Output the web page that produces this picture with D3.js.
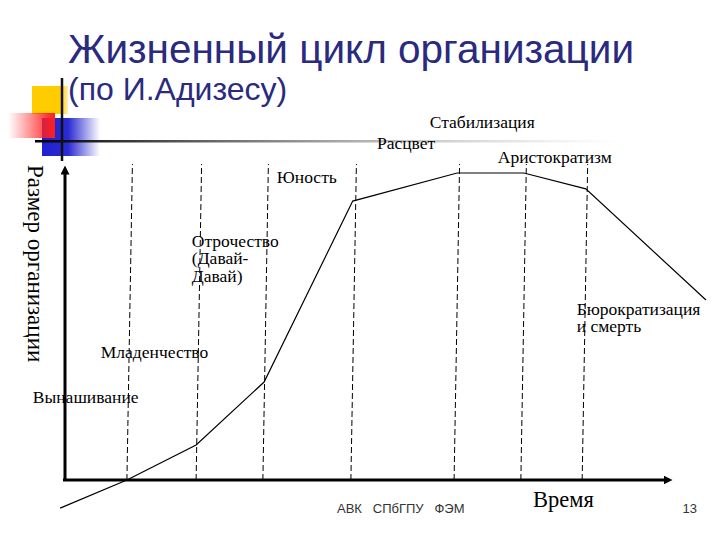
<!DOCTYPE html>
<html><head><meta charset="utf-8">
<script src="https://cdn.jsdelivr.net/npm/d3@7/dist/d3.min.js"></script>
<style>body{margin:0;background:#fff}svg{display:block}</style>
</head><body>
<script>
// ---- data ----
const titleLines = ["Жизненный цикл организации", "(по И.Адизесу)"];
const yAxisLabel = "Размер организации";
const xAxisLabel = "Время";
// stage boundaries (time units, where the dashed lines meet the time axis)
const boundaries = [10.2, 21.6, 32.6, 47.1, 64.1, 75.1, 85.2];
// life-cycle curve (time, size)
const curveT    = [-0.8, 10.2, 21.6, 32.8, 47.4, 64.6, 75.6, 85.8, 105.6];
const curveSize = [-9.0, 0,    11.2, 31.4, 89.4, 98.4, 98.4, 93.3, 57.7];
// stage labels: text lines, anchor (time, size)
const stageNames = [["Вынашивание"], ["Младенчество"], ["Отрочество", "(Давай-", "Давай)"], ["Юность"],
                    ["Расцвет"], ["Стабилизация"], ["Аристократизм"], ["Бюрократизация", "и смерть"]];
const stageT    = [-5.3, 5.9, 20.9, 34.9, 51.4, 60.1, 71.3, 84.3];
const stageSize = [24.7, 39.1, 74.7, 95.2, 106.1, 112.8, 101.6, 52.9];
const footer = ["АВК", "СПбГПУ", "ФЭМ"];
const pageNumber = "13";

// ---- drawing ----
const W = 720, H = 540;
const svg = d3.select("body").append("svg").attr("width", W).attr("height", H);
const x = d3.scaleLinear().domain([0, 100]).range([65, 672]);
const y = d3.scaleLinear().domain([0, 100]).range([480, 168]);
const skew = 5.5; // scan tilt of the vertical dashed lines (px over full height)

const defs = svg.append("defs");
const gR = defs.append("linearGradient").attr("id", "gr");
gR.append("stop").attr("offset", 0).attr("stop-color", "#ff3030").attr("stop-opacity", 0);
gR.append("stop").attr("offset", 0.85).attr("stop-color", "#ff2020").attr("stop-opacity", 0.9);
gR.append("stop").attr("offset", 1).attr("stop-color", "#ff2020").attr("stop-opacity", 1);
const gB = defs.append("linearGradient").attr("id", "gb");
gB.append("stop").attr("offset", 0).attr("stop-color", "#2020d0").attr("stop-opacity", 1);
gB.append("stop").attr("offset", 0.45).attr("stop-color", "#2020d0").attr("stop-opacity", 0.95);
gB.append("stop").attr("offset", 1).attr("stop-color", "#2020d0").attr("stop-opacity", 0);
const gY = defs.append("linearGradient").attr("id", "gy");
gY.append("stop").attr("offset", 0).attr("stop-color", "#ffcc00").attr("stop-opacity", 1);
gY.append("stop").attr("offset", 0.8).attr("stop-color", "#ffcc00").attr("stop-opacity", 1);
gY.append("stop").attr("offset", 1).attr("stop-color", "#ffcc00").attr("stop-opacity", 0.3);
const gL = defs.append("linearGradient").attr("id", "gl");
gL.append("stop").attr("offset", 0).attr("stop-color", "#000").attr("stop-opacity", 1);
gL.append("stop").attr("offset", 0.3).attr("stop-color", "#555").attr("stop-opacity", 0.9);
gL.append("stop").attr("offset", 1).attr("stop-color", "#aaa").attr("stop-opacity", 0);

// decoration
const deco = svg.append("g");
deco.append("rect").attr("x", 32).attr("y", 86).attr("width", 36).attr("height", 28).attr("fill", "url(#gy)");
deco.append("rect").attr("x", 42).attr("y", 118).attr("width", 58).attr("height", 38).attr("fill", "url(#gb)");
deco.append("rect").attr("x", 8).attr("y", 113).attr("width", 47).attr("height", 25).attr("fill", "url(#gr)");
deco.append("rect").attr("x", 35).attr("y", 140).attr("width", 585).attr("height", 2.5).attr("fill", "url(#gl)");
deco.append("line").attr("x1", 62).attr("x2", 62).attr("y1", 78).attr("y2", 161).attr("stroke", "#111").attr("stroke-width", 2.5);

// title
svg.append("text").attr("x", 68).attr("y", 63).text(titleLines[0])
  .attr("font-family", "Liberation Sans, Arial, sans-serif").attr("font-size", 40.5).attr("fill", "#2a2a80");
svg.append("text").attr("x", 68).attr("y", 100).text(titleLines[1])
  .attr("font-family", "Liberation Sans, Arial, sans-serif").attr("font-size", 32).attr("fill", "#2a2a80");

// dashed stage boundaries
svg.append("g").selectAll("line").data(boundaries).join("line")
  .attr("x1", d => x(d)).attr("y1", y(0))
  .attr("x2", d => x(d) + skew).attr("y2", 164)
  .attr("stroke", "#000").attr("stroke-width", 1).attr("stroke-dasharray", "6,3");

// axes
const m = defs.append("marker").attr("id", "arr").attr("viewBox", "0 0 10 10").attr("refX", 5).attr("refY", 5)
  .attr("markerWidth", 3).attr("markerHeight", 3).attr("orient", "auto");
m.append("path").attr("d", "M0,0L10,5L0,10z").attr("fill", "#000");
svg.append("line").attr("x1", x(0)).attr("y1", y(0)).attr("x2", x(0)).attr("y2", 170)
  .attr("stroke", "#000").attr("stroke-width", 3).attr("marker-end", "url(#arr)");
svg.append("line").attr("x1", x(0) - 2).attr("y1", y(0)).attr("x2", 668).attr("y2", y(0))
  .attr("stroke", "#000").attr("stroke-width", 3).attr("marker-end", "url(#arr)");

// curve
const pts = curveT.map((t, i) => [t, curveSize[i]]);
svg.append("path").datum(pts)
  .attr("d", d3.line().x(d => x(d[0])).y(d => y(d[1])))
  .attr("fill", "none").attr("stroke", "#000").attr("stroke-width", 1.2);

// stage labels
const serif = "Liberation Serif, Times New Roman, serif";
stageNames.forEach((lines, i) => {
  const t = svg.append("text").attr("font-family", serif).attr("font-size", 17.5).attr("fill", "#000")
    .attr("x", x(stageT[i])).attr("y", y(stageSize[i]));
  lines.forEach((s, j) => t.append("tspan").attr("x", x(stageT[i])).attr("dy", j ? 17.5 : 0).text(s));
});

// axis labels
svg.append("text").attr("transform", "translate(28,165) rotate(90)")
  .attr("font-family", serif).attr("font-size", 23).text(yAxisLabel);
svg.append("text").attr("x", 533).attr("y", 507).attr("font-family", serif).attr("font-size", 22.5).text(xAxisLabel);

// footer
svg.append("text").attr("x", 337).attr("y", 513).attr("font-family", "Liberation Sans, Arial, sans-serif")
  .attr("font-size", 13).attr("fill", "#333").attr("xml:space", "preserve").text(footer.join("   "));
svg.append("text").attr("x", 697).attr("y", 513).attr("text-anchor", "end").attr("font-family", "Liberation Sans, Arial, sans-serif")
  .attr("font-size", 13).attr("fill", "#333").text(pageNumber);
</script>
</body></html>
